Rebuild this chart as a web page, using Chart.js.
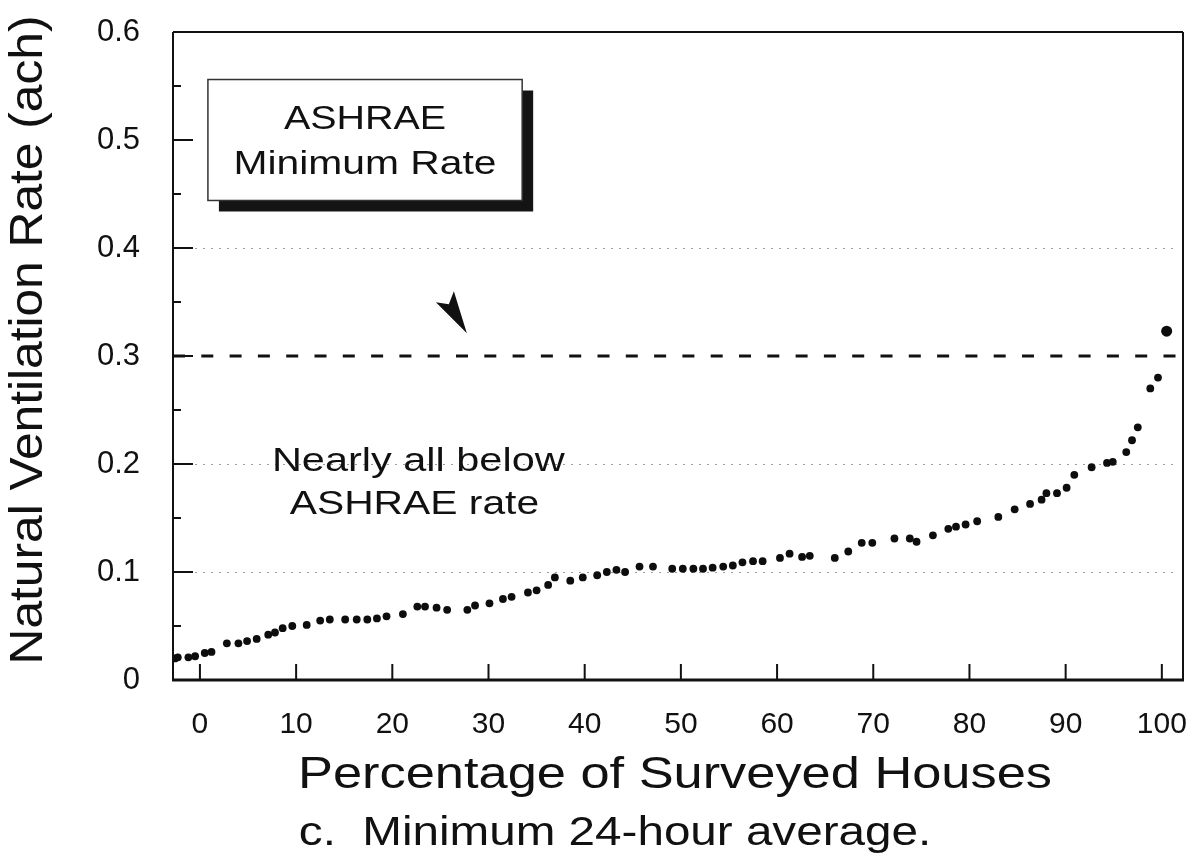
<!DOCTYPE html>
<html>
<head>
<meta charset="utf-8">
<title>Natural Ventilation Rate - Minimum 24-hour average</title>
<script src="https://cdn.jsdelivr.net/npm/chart.js@4.4.1/dist/chart.umd.min.js"></script>
<style>
  html, body { margin: 0; padding: 0; background: #ffffff; }
  #wrap { width: 1190px; height: 866px; }
</style>
</head>
<body>
<div id="wrap"><canvas id="chart" width="1190" height="866"></canvas></div>
<script>
// Percentage of surveyed houses (sorted) and their minimum 24-hour average rate (ach)
const PCT = [
  -2.6, -2.3, -1.2, -0.5, 0.5, 1.2, 2.8, 4.0, 4.9, 5.9,
  7.1, 7.8, 8.6, 9.6, 11.1, 12.5, 13.5, 15.1, 16.3, 17.4,
  18.4, 19.4, 21.1, 22.6, 23.4, 24.6, 25.7, 27.8, 28.6, 30.1,
  31.5, 32.4, 34.1, 35.0, 36.2, 36.9, 38.5, 39.8, 41.3, 42.3,
  43.3, 44.2, 45.7, 47.1, 49.1, 50.2, 51.3, 52.3, 53.3, 54.4,
  55.4, 56.4, 57.5, 58.5, 60.3, 61.3, 62.6, 63.4, 66.0, 67.4,
  68.8, 69.9, 72.2, 73.8, 74.5, 76.2, 77.8, 78.6, 79.6, 80.8,
  83.0, 84.7, 86.3, 87.5, 88.0, 89.1, 90.1, 90.9, 92.7, 94.3,
  94.9, 96.3, 96.9, 97.5, 98.8, 99.6, 100.5
];
const RATE = [
  0.020, 0.021, 0.021, 0.022, 0.025, 0.026, 0.034, 0.034, 0.036, 0.038,
  0.042, 0.044, 0.048, 0.050, 0.051, 0.055, 0.056, 0.056, 0.056, 0.056,
  0.057, 0.059, 0.061, 0.068, 0.068, 0.067, 0.065, 0.065, 0.069, 0.071,
  0.075, 0.077, 0.081, 0.083, 0.088, 0.095, 0.092, 0.095, 0.097, 0.100,
  0.102, 0.100, 0.105, 0.105, 0.103, 0.103, 0.103, 0.103, 0.104, 0.105,
  0.106, 0.109, 0.110, 0.110, 0.113, 0.117, 0.114, 0.115, 0.113, 0.119,
  0.127, 0.127, 0.131, 0.131, 0.128, 0.134, 0.140, 0.142, 0.144, 0.147,
  0.151, 0.158, 0.163, 0.167, 0.173, 0.173, 0.178, 0.190, 0.197, 0.201,
  0.202, 0.211, 0.222, 0.234, 0.270, 0.280, 0.323
];

// Axis ticks
const X_TICKS = [0, 10, 20, 30, 40, 50, 60, 70, 80, 90, 100];
const Y_TICKS = [0, 0.1, 0.2, 0.3, 0.4, 0.5, 0.6];
const Y_TICK_LABELS = ['0', '0.1', '0.2', '0.3', '0.4', '0.5', '0.6'];
const Y_MINOR_TICKS = [0.05, 0.15, 0.25, 0.35, 0.45, 0.55];
const Y_DOTTED_GRID = [0.1, 0.2, 0.4];
const X_RANGE = [-2.8, 102.2];
const Y_RANGE = [0, 0.6];

// ASHRAE minimum ventilation rate (ach)
const ASHRAE_MIN = 0.3;

// Text
const Y_TITLE = 'Natural Ventilation Rate (ach)';
const X_TITLE = 'Percentage of Surveyed Houses';
const CAPTION = 'c.  Minimum 24-hour average.';
const BOX_LINES = ['ASHRAE', 'Minimum Rate'];
const NOTE_LINES = ['Nearly all below', 'ASHRAE rate'];

const FONT = '"Liberation Sans", Arial, Helvetica, sans-serif';
const INK = '#111111';

function drawText(ctx, text, x, y, size, sx, rot) {
  ctx.save();
  ctx.translate(x, y);
  if (rot) ctx.rotate(rot);
  ctx.scale(sx, 1);
  ctx.font = size + 'px ' + FONT;
  ctx.fillStyle = INK;
  ctx.textAlign = 'center';
  ctx.textBaseline = 'middle';
  ctx.fillText(text, 0, 0);
  ctx.restore();
}

const decorations = {
  id: 'decorations',
  beforeDatasetsDraw(chart) {
    const { ctx, chartArea: a, scales: { y } } = chart;
    ctx.save();
    ctx.strokeStyle = '#9c9c9c';
    ctx.lineWidth = 1.2;
    ctx.setLineDash([2, 6]);
    Y_DOTTED_GRID.forEach(v => {
      const py = Math.round(y.getPixelForValue(v)) + 0.5;
      ctx.beginPath();
      ctx.moveTo(a.left + 22, py);
      ctx.lineTo(a.right - 10, py);
      ctx.stroke();
    });
    ctx.restore();
  },
  afterDraw(chart) {
    const { ctx, chartArea: a, scales: { x, y } } = chart;
    ctx.save();
    ctx.strokeStyle = INK;
    ctx.setLineDash([]);

    // plot frame
    ctx.lineWidth = 2;
    ctx.beginPath();
    ctx.moveTo(a.left, a.top); ctx.lineTo(a.right, a.top);
    ctx.moveTo(a.right, a.top); ctx.lineTo(a.right, a.bottom);
    ctx.moveTo(a.left, a.top); ctx.lineTo(a.left, a.bottom);
    ctx.stroke();
    ctx.lineWidth = 3;
    ctx.beginPath();
    ctx.moveTo(a.left - 1, a.bottom); ctx.lineTo(a.right + 1, a.bottom);
    ctx.stroke();

    // inward tick marks
    ctx.lineWidth = 2;
    ctx.beginPath();
    Y_TICKS.forEach(v => {
      const py = y.getPixelForValue(v);
      ctx.moveTo(a.left, py); ctx.lineTo(a.left + 20, py);
    });
    Y_MINOR_TICKS.forEach(v => {
      const py = y.getPixelForValue(v);
      ctx.moveTo(a.left, py); ctx.lineTo(a.left + 8, py);
    });
    X_TICKS.forEach(v => {
      const px = x.getPixelForValue(v);
      ctx.moveTo(px, a.bottom); ctx.lineTo(px, a.bottom - 16);
    });
    ctx.stroke();

    // legend box with drop shadow
    const bx0 = x.getPixelForValue(0.83), bx1 = x.getPixelForValue(33.5);
    const by0 = y.getPixelForValue(0.556), by1 = y.getPixelForValue(0.444);
    ctx.fillStyle = '#141414';
    ctx.fillRect(bx0 + 11, by0 + 11, bx1 - bx0, by1 - by0);
    ctx.fillStyle = '#ffffff';
    ctx.fillRect(bx0, by0, bx1 - bx0, by1 - by0);
    ctx.lineWidth = 1.5;
    ctx.strokeStyle = '#333333';
    ctx.strokeRect(bx0, by0, bx1 - bx0, by1 - by0);
    const bcx = (bx0 + bx1) / 2;
    drawText(ctx, BOX_LINES[0], bcx, y.getPixelForValue(0.519), 34, 1.16);
    drawText(ctx, BOX_LINES[1], bcx, y.getPixelForValue(0.477), 34, 1.2);

    // arrowhead pointing at the ASHRAE line
    const tx = x.getPixelForValue(27.75), ty = y.getPixelForValue(0.321);
    ctx.fillStyle = INK;
    ctx.beginPath();
    ctx.moveTo(tx, ty);
    ctx.lineTo(tx - 13, ty - 42);
    ctx.lineTo(tx - 18, ty - 29);
    ctx.lineTo(tx - 31, ty - 31);
    ctx.closePath();
    ctx.fill();

    // note below the line
    drawText(ctx, NOTE_LINES[0], x.getPixelForValue(22.7), y.getPixelForValue(0.202), 34, 1.22);
    drawText(ctx, NOTE_LINES[1], x.getPixelForValue(22.3), y.getPixelForValue(0.162), 34, 1.2);

    // axis titles and caption
    drawText(ctx, Y_TITLE, 29, 340, 46, 1.08, -Math.PI / 2);
    drawText(ctx, X_TITLE, 675, 776, 44, 1.19);
    drawText(ctx, CAPTION, 615, 834, 40, 1.19);
    ctx.restore();
  }
};

Chart.defaults.font.family = FONT;
Chart.defaults.color = INK;

new Chart(document.getElementById('chart'), {
  data: {
    datasets: [
      {
        type: 'scatter',
        label: 'Houses',
        data: PCT.map((p, i) => ({ x: p, y: RATE[i] })),
        backgroundColor: '#0d0d0d',
        borderColor: '#0d0d0d',
        borderWidth: 0,
        pointRadius: ctx => (ctx.dataIndex === PCT.length - 1 ? 5.5 : 3.9),
        order: 1
      },
      {
        type: 'line',
        label: 'ASHRAE Minimum Rate',
        data: [{ x: X_RANGE[0], y: ASHRAE_MIN }, { x: X_RANGE[1], y: ASHRAE_MIN }],
        borderColor: '#111111',
        borderWidth: 3,
        borderDash: [12, 16.3],
        pointRadius: 0,
        fill: false,
        order: 2
      }
    ]
  },
  options: {
    responsive: false,
    animation: false,
    devicePixelRatio: 1,
    layout: { padding: { top: 32, right: 7, left: 0, bottom: 0 } },
    plugins: { legend: { display: false }, tooltip: { enabled: false } },
    scales: {
      x: {
        type: 'linear',
        position: 'bottom',
        min: X_RANGE[0],
        max: X_RANGE[1],
        afterBuildTicks: s => { s.ticks = X_TICKS.map(v => ({ value: v })); },
        afterFit: s => { s.height = 186; s.paddingLeft = 0; s.paddingRight = 0; },
        grid: { display: false },
        border: { display: false },
        ticks: { font: { size: 30 }, color: INK, padding: 19, maxRotation: 0 }
      },
      y: {
        type: 'linear',
        position: 'left',
        min: Y_RANGE[0],
        max: Y_RANGE[1],
        afterBuildTicks: s => { s.ticks = Y_TICKS.map(v => ({ value: v })); },
        afterFit: s => { s.width = 173; s.paddingTop = 0; s.paddingBottom = 0; },
        grid: { display: false },
        border: { display: false },
        ticks: {
          font: { size: 31 },
          color: INK,
          padding: 25,
          callback: (v, i) => Y_TICK_LABELS[i]
        }
      }
    }
  },
  plugins: [decorations]
});
</script>
</body>
</html>
